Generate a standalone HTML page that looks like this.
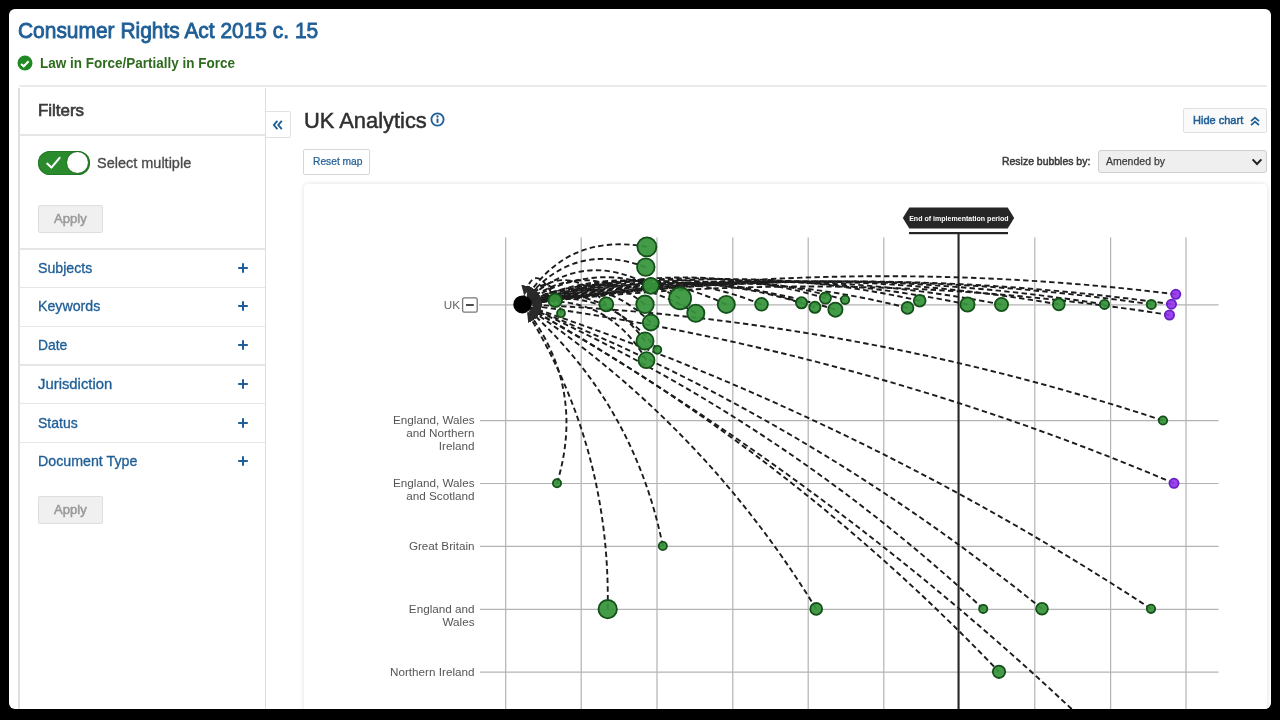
<!DOCTYPE html>
<html lang="en"><head><meta charset="utf-8"><title>UK Analytics</title>
<style>
html,body{margin:0;padding:0;background:#000;}
body{width:1280px;height:720px;overflow:hidden;background:#000;font-family:"Liberation Sans",sans-serif;position:relative;filter:blur(0.45px);}
.page{position:absolute;left:9px;top:9px;width:1262px;height:699.5px;background:#fff;border-radius:6px;overflow:hidden;}
.abs{position:absolute;box-sizing:border-box;}
.t{position:absolute;white-space:nowrap;transform-origin:0 50%;display:inline-block;}
.chart{position:absolute;left:0;top:0;}
.hl{position:absolute;background:#e6e6e6;height:1.6px;}
.btn{position:absolute;box-sizing:border-box;border:1px solid #d9d9d9;border-radius:2px;background:#fff;}
</style></head><body>
<div class="page"><div class="abs" style="left:-9px;top:-9px;width:1280px;height:720px;">
<div class="hl" style="left:19px;top:84.9px;width:1248px;height:2.5px;background:#ebebeb"></div>
<svg class="abs" style="left:17.0px;top:55.2px" width="16" height="16" viewBox="0 0 16 16"><circle cx="8" cy="8" r="7.5" fill="#1f8a24"/><path d="M4.1 8.9 L6.7 11.3 L11.6 6.3" fill="none" stroke="#fff" stroke-width="2" stroke-linejoin="miter"/></svg>
<div class="abs" style="left:18.3px;top:88px;width:1.5px;height:632px;background:#dedede"></div>
<div class="abs" style="left:264.7px;top:88px;width:1.5px;height:632px;background:#dedede"></div>
<div class="hl" style="left:19px;top:134.4px;width:246px;height:1.4px"></div>
<div class="hl" style="left:19px;top:247.9px;width:246px;height:2.4px"></div>
<div class="hl" style="left:19px;top:286.9px;width:246px;height:1.4px"></div>
<div class="hl" style="left:19px;top:325.6px;width:246px;height:1.4px"></div>
<div class="hl" style="left:19px;top:364.4px;width:246px;height:1.4px"></div>
<div class="hl" style="left:19px;top:403.1px;width:246px;height:1.4px"></div>
<div class="hl" style="left:19px;top:441.9px;width:246px;height:1.4px"></div>
<div class="abs" style="left:38.1px;top:150.6px;width:51.6px;height:24px;border-radius:12px;background:#2a8a2c;box-shadow:inset 0 0 0 1px #237a26"></div>
<div class="abs" style="left:66.7px;top:151.8px;width:21.6px;height:21.6px;border-radius:50%;background:#fff;box-shadow:0 0 1.5px rgba(0,0,0,.6)"></div>
<svg class="abs" style="left:44px;top:154px" width="20" height="18" viewBox="0 0 20 18"><path d="M3.2 9.6 L7.4 13.6 L15.6 3.8" fill="none" stroke="#fff" stroke-width="2.1" stroke-linecap="round" stroke-linejoin="round"/></svg>
<div class="btn" style="left:37.9px;top:205.1px;width:64.8px;height:27.8px;background:#f0f0f0;border-color:#dedede"></div>
<div class="btn" style="left:37.9px;top:496.0px;width:64.8px;height:27.8px;background:#f0f0f0;border-color:#dedede"></div>
<svg class="abs" style="left:236.5px;top:261.6px" width="12" height="12" viewBox="0 0 12 12"><path d="M6 1.2V10.8M1.2 6H10.8" stroke="#1f5e96" stroke-width="2" fill="none"/></svg>
<svg class="abs" style="left:236.5px;top:300.2px" width="12" height="12" viewBox="0 0 12 12"><path d="M6 1.2V10.8M1.2 6H10.8" stroke="#1f5e96" stroke-width="2" fill="none"/></svg>
<svg class="abs" style="left:236.5px;top:339.0px" width="12" height="12" viewBox="0 0 12 12"><path d="M6 1.2V10.8M1.2 6H10.8" stroke="#1f5e96" stroke-width="2" fill="none"/></svg>
<svg class="abs" style="left:236.5px;top:377.8px" width="12" height="12" viewBox="0 0 12 12"><path d="M6 1.2V10.8M1.2 6H10.8" stroke="#1f5e96" stroke-width="2" fill="none"/></svg>
<svg class="abs" style="left:236.5px;top:416.5px" width="12" height="12" viewBox="0 0 12 12"><path d="M6 1.2V10.8M1.2 6H10.8" stroke="#1f5e96" stroke-width="2" fill="none"/></svg>
<svg class="abs" style="left:236.5px;top:455.3px" width="12" height="12" viewBox="0 0 12 12"><path d="M6 1.2V10.8M1.2 6H10.8" stroke="#1f5e96" stroke-width="2" fill="none"/></svg>
<div class="btn" style="left:264.8px;top:110.6px;width:25.8px;height:27.2px;border-color:#e2e2e2"></div>
<svg class="abs" style="left:271.5px;top:118.5px" width="12" height="12" viewBox="0 0 12 12"><path d="M5.4 1.9 L1.9 6 L5.4 10.1 M9.8 1.9 L6.3 6 L9.8 10.1" fill="none" stroke="#1f5e96" stroke-width="1.9"/></svg>
<svg class="abs" style="left:430px;top:112px" width="15" height="15" viewBox="0 0 15 15"><circle cx="7.5" cy="7.5" r="6.1" fill="#fff" stroke="#1f5e96" stroke-width="1.8"/><rect x="6.55" y="6.5" width="1.9" height="4.4" fill="#1f5e96"/><circle cx="7.5" cy="4.5" r="1.15" fill="#1f5e96"/></svg>
<div class="btn" style="left:303.4px;top:149.3px;width:67px;height:25.3px;border-color:#d6d6d6"></div>
<div class="btn" style="left:1183.4px;top:107.9px;width:83.2px;height:25.4px;background:#fafafa;border-color:#e0e0e0"></div>
<svg class="abs" style="left:1248.5px;top:115px" width="12" height="12" viewBox="0 0 12 12"><path d="M2 6.2 L6 2.6 L10 6.2 M2 10.2 L6 6.6 L10 10.2" fill="none" stroke="#1f5e96" stroke-width="1.8"/></svg>
<div class="btn" style="left:1097.9px;top:149.6px;width:168.7px;height:23.3px;background:#efefef;border-color:#cfcfcf;border-radius:3px"></div>
<svg class="abs" style="left:1250.5px;top:156.5px" width="12" height="10" viewBox="0 0 12 10"><path d="M1.6 2.4 L6 7 L10.4 2.4" fill="none" stroke="#222" stroke-width="2"/></svg>
<div class="abs" style="left:304.2px;top:183.8px;width:962.4px;height:560px;border-radius:4px;background:#fff;box-shadow:0 0 5px rgba(0,0,0,.13)"></div>
<svg class="chart" width="1280" height="720" viewBox="0 0 1280 720">
<g stroke="#b3b3b3" stroke-width="1.2" fill="none">
<line x1="505.7" y1="237.5" x2="505.7" y2="712"/>
<line x1="581.2" y1="237.5" x2="581.2" y2="712"/>
<line x1="657.0" y1="237.5" x2="657.0" y2="712"/>
<line x1="732.8" y1="237.5" x2="732.8" y2="712"/>
<line x1="808.2" y1="237.5" x2="808.2" y2="712"/>
<line x1="883.8" y1="237.5" x2="883.8" y2="712"/>
<line x1="1034.8" y1="237.5" x2="1034.8" y2="712"/>
<line x1="1110.6" y1="237.5" x2="1110.6" y2="712"/>
<line x1="1186.0" y1="237.5" x2="1186.0" y2="712"/>
<line x1="479" y1="304.8" x2="1218.5" y2="304.8"/>
<line x1="480" y1="420.7" x2="1218.5" y2="420.7"/>
<line x1="480" y1="483.5" x2="1218.5" y2="483.5"/>
<line x1="480" y1="546.4" x2="1218.5" y2="546.4"/>
<line x1="480" y1="609.4" x2="1218.5" y2="609.4"/>
<line x1="480" y1="672.2" x2="1218.5" y2="672.2"/>
</g>
<g fill="#262626" stroke="none">
<rect x="957.5" y="232" width="2.1" height="480"/>
<rect x="909" y="232" width="99" height="2.2"/>
<path d="M902.8 218 L909.3 207.4 H1007.7 L1014.2 218 L1007.7 228.6 H909.3 Z"/>
</g>
<text x="958.9" y="221.2" text-anchor="middle" font-family="Liberation Sans, sans-serif" font-size="6.7" font-weight="700" fill="#ffffff" textLength="99.5" lengthAdjust="spacingAndGlyphs">End of implementation period</text>
<defs><marker id="arr" viewBox="0 0 10 10" refX="19" refY="5" markerWidth="10" markerHeight="10" markerUnits="userSpaceOnUse" orient="auto-start-reverse"><path d="M0 0 L10 5 L0 10 Z" fill="#2a2a2a"/></marker></defs>
<g fill="none" stroke="#1c1c1c" stroke-width="1.9" stroke-dasharray="5.4 3.3">
<path d="M555.2 300.4 Q532.9 253.9 522.3 304.4" marker-end="url(#arr)"/>
<path d="M561.0 313.2 Q552.5 261.2 522.3 304.4" marker-end="url(#arr)"/>
<path d="M606.3 304.3 Q564.2 255.8 522.3 304.4" marker-end="url(#arr)"/>
<path d="M646.9 246.9 Q564.4 231.8 522.3 304.4" marker-end="url(#arr)"/>
<path d="M645.8 267.1 Q570.1 239.5 522.3 304.4" marker-end="url(#arr)"/>
<path d="M650.8 285.8 Q579.6 247.2 522.3 304.4" marker-end="url(#arr)"/>
<path d="M645.0 304.3 Q583.6 256.0 522.3 304.4" marker-end="url(#arr)"/>
<path d="M650.8 322.5 Q593.3 265.6 522.3 304.4" marker-end="url(#arr)"/>
<path d="M645.0 341.0 Q597.5 276.4 522.3 304.4" marker-end="url(#arr)"/>
<path d="M657.3 349.8 Q605.2 281.3 522.3 304.4" marker-end="url(#arr)"/>
<path d="M646.5 360.2 Q604.2 288.2 522.3 304.4" marker-end="url(#arr)"/>
<path d="M680.1 298.4 Q599.4 253.2 522.3 304.4" marker-end="url(#arr)"/>
<path d="M695.8 313.3 Q611.5 260.8 522.3 304.4" marker-end="url(#arr)"/>
<path d="M726.3 304.4 Q624.3 256.4 522.3 304.4" marker-end="url(#arr)"/>
<path d="M761.5 304.3 Q641.9 256.5 522.3 304.4" marker-end="url(#arr)"/>
<path d="M801.5 302.8 Q661.6 256.0 522.3 304.4" marker-end="url(#arr)"/>
<path d="M814.9 307.3 Q669.1 258.3 522.3 304.4" marker-end="url(#arr)"/>
<path d="M825.4 298.1 Q672.9 253.8 522.3 304.4" marker-end="url(#arr)"/>
<path d="M835.4 309.7 Q679.7 259.6 522.3 304.4" marker-end="url(#arr)"/>
<path d="M845.1 299.8 Q683.0 254.7 522.3 304.4" marker-end="url(#arr)"/>
<path d="M907.5 307.9 Q715.3 259.1 522.3 304.4" marker-end="url(#arr)"/>
<path d="M919.7 300.8 Q720.6 255.6 522.3 304.4" marker-end="url(#arr)"/>
<path d="M967.5 304.5 Q744.9 257.7 522.3 304.4" marker-end="url(#arr)"/>
<path d="M1001.5 304.5 Q761.9 257.8 522.3 304.4" marker-end="url(#arr)"/>
<path d="M1058.8 304.4 Q790.5 258.1 522.3 304.4" marker-end="url(#arr)"/>
<path d="M1104.5 304.4 Q813.4 258.3 522.3 304.4" marker-end="url(#arr)"/>
<path d="M1151.3 304.4 Q836.8 258.5 522.3 304.4" marker-end="url(#arr)"/>
<path d="M1175.8 294.3 Q848.3 253.6 522.3 304.4" marker-end="url(#arr)"/>
<path d="M1171.5 304.2 Q846.9 258.5 522.3 304.4" marker-end="url(#arr)"/>
<path d="M1169.5 315.0 Q846.6 263.9 522.3 304.4" marker-end="url(#arr)"/>
<path d="M1163.0 420.5 Q850.8 317.4 522.3 304.4" marker-end="url(#arr)"/>
<path d="M1174.0 483.3 Q860.2 349.9 522.3 304.4" marker-end="url(#arr)"/>
<path d="M557.0 483.3 Q586.9 384.7 522.3 304.4" marker-end="url(#arr)"/>
<path d="M662.8 546.0 Q633.7 401.3 522.3 304.4" marker-end="url(#arr)"/>
<path d="M607.7 609.2 Q610.7 444.0 522.3 304.4" marker-end="url(#arr)"/>
<path d="M816.2 608.9 Q703.0 424.1 522.3 304.4" marker-end="url(#arr)"/>
<path d="M983.2 608.9 Q778.2 418.1 522.3 304.4" marker-end="url(#arr)"/>
<path d="M1042.0 608.8 Q805.4 416.9 522.3 304.4" marker-end="url(#arr)"/>
<path d="M1151.0 608.8 Q856.5 415.6 522.3 304.4" marker-end="url(#arr)"/>
<path d="M522.3 304.4 Q788.7 451.7 999.0 671.8" marker-start="url(#arr)"/>
<path d="M522.3 304.4 Q837.8 483.3 1099.0 735.0" marker-start="url(#arr)"/>
</g>
<circle cx="555.2" cy="300.4" r="6.80" fill="#36953a" fill-opacity="0.93" stroke="#145019" stroke-width="1.8"/>
<circle cx="561.0" cy="313.2" r="4.00" fill="#36953a" fill-opacity="0.93" stroke="#145019" stroke-width="1.8"/>
<circle cx="606.3" cy="304.3" r="7.00" fill="#36953a" fill-opacity="0.93" stroke="#145019" stroke-width="1.8"/>
<circle cx="646.9" cy="246.9" r="9.50" fill="#36953a" fill-opacity="0.93" stroke="#145019" stroke-width="1.8"/>
<circle cx="645.8" cy="267.1" r="8.80" fill="#36953a" fill-opacity="0.93" stroke="#145019" stroke-width="1.8"/>
<circle cx="650.8" cy="285.8" r="8.00" fill="#36953a" fill-opacity="0.93" stroke="#145019" stroke-width="1.8"/>
<circle cx="645.0" cy="304.3" r="8.80" fill="#36953a" fill-opacity="0.93" stroke="#145019" stroke-width="1.8"/>
<circle cx="650.8" cy="322.5" r="8.00" fill="#36953a" fill-opacity="0.93" stroke="#145019" stroke-width="1.8"/>
<circle cx="645.0" cy="341.0" r="8.60" fill="#36953a" fill-opacity="0.93" stroke="#145019" stroke-width="1.8"/>
<circle cx="657.3" cy="349.8" r="4.00" fill="#36953a" fill-opacity="0.93" stroke="#145019" stroke-width="1.8"/>
<circle cx="646.5" cy="360.2" r="8.00" fill="#36953a" fill-opacity="0.93" stroke="#145019" stroke-width="1.8"/>
<circle cx="680.1" cy="298.4" r="11.00" fill="#36953a" fill-opacity="0.93" stroke="#145019" stroke-width="1.8"/>
<circle cx="695.8" cy="313.3" r="8.60" fill="#36953a" fill-opacity="0.93" stroke="#145019" stroke-width="1.8"/>
<circle cx="726.3" cy="304.4" r="8.60" fill="#36953a" fill-opacity="0.93" stroke="#145019" stroke-width="1.8"/>
<circle cx="761.5" cy="304.3" r="6.40" fill="#36953a" fill-opacity="0.93" stroke="#145019" stroke-width="1.8"/>
<circle cx="801.5" cy="302.8" r="5.60" fill="#36953a" fill-opacity="0.93" stroke="#145019" stroke-width="1.8"/>
<circle cx="814.9" cy="307.3" r="5.60" fill="#36953a" fill-opacity="0.93" stroke="#145019" stroke-width="1.8"/>
<circle cx="825.4" cy="298.1" r="5.60" fill="#36953a" fill-opacity="0.93" stroke="#145019" stroke-width="1.8"/>
<circle cx="835.4" cy="309.7" r="7.10" fill="#36953a" fill-opacity="0.93" stroke="#145019" stroke-width="1.8"/>
<circle cx="845.1" cy="299.8" r="4.20" fill="#36953a" fill-opacity="0.93" stroke="#145019" stroke-width="1.8"/>
<circle cx="907.5" cy="307.9" r="5.90" fill="#36953a" fill-opacity="0.93" stroke="#145019" stroke-width="1.8"/>
<circle cx="919.7" cy="300.8" r="5.90" fill="#36953a" fill-opacity="0.93" stroke="#145019" stroke-width="1.8"/>
<circle cx="967.5" cy="304.5" r="7.10" fill="#36953a" fill-opacity="0.93" stroke="#145019" stroke-width="1.8"/>
<circle cx="1001.5" cy="304.5" r="6.60" fill="#36953a" fill-opacity="0.93" stroke="#145019" stroke-width="1.8"/>
<circle cx="1058.8" cy="304.4" r="5.90" fill="#36953a" fill-opacity="0.93" stroke="#145019" stroke-width="1.8"/>
<circle cx="1104.5" cy="304.4" r="4.60" fill="#36953a" fill-opacity="0.93" stroke="#145019" stroke-width="1.8"/>
<circle cx="1151.3" cy="304.4" r="4.60" fill="#36953a" fill-opacity="0.93" stroke="#145019" stroke-width="1.8"/>
<circle cx="1175.8" cy="294.3" r="4.60" fill="#9335ec" fill-opacity="0.93" stroke="#6a20c4" stroke-width="1.8"/>
<circle cx="1171.5" cy="304.2" r="4.60" fill="#9335ec" fill-opacity="0.93" stroke="#6a20c4" stroke-width="1.8"/>
<circle cx="1169.5" cy="315.0" r="4.60" fill="#9335ec" fill-opacity="0.93" stroke="#6a20c4" stroke-width="1.8"/>
<circle cx="1163.0" cy="420.5" r="4.20" fill="#36953a" fill-opacity="0.93" stroke="#145019" stroke-width="1.8"/>
<circle cx="1174.0" cy="483.3" r="4.60" fill="#9335ec" fill-opacity="0.93" stroke="#6a20c4" stroke-width="1.8"/>
<circle cx="557.0" cy="483.3" r="4.10" fill="#36953a" fill-opacity="0.93" stroke="#145019" stroke-width="1.8"/>
<circle cx="662.8" cy="546.0" r="4.10" fill="#36953a" fill-opacity="0.93" stroke="#145019" stroke-width="1.8"/>
<circle cx="607.7" cy="609.2" r="9.20" fill="#36953a" fill-opacity="0.93" stroke="#145019" stroke-width="1.8"/>
<circle cx="816.2" cy="608.9" r="5.90" fill="#36953a" fill-opacity="0.93" stroke="#145019" stroke-width="1.8"/>
<circle cx="983.2" cy="608.9" r="4.10" fill="#36953a" fill-opacity="0.93" stroke="#145019" stroke-width="1.8"/>
<circle cx="1042.0" cy="608.8" r="5.90" fill="#36953a" fill-opacity="0.93" stroke="#145019" stroke-width="1.8"/>
<circle cx="1151.0" cy="608.8" r="4.20" fill="#36953a" fill-opacity="0.93" stroke="#145019" stroke-width="1.8"/>
<circle cx="999.0" cy="671.8" r="6.20" fill="#36953a" fill-opacity="0.93" stroke="#145019" stroke-width="1.8"/>
<circle cx="522.3" cy="304.4" r="9" fill="#000"/>
<g font-family="Liberation Sans, sans-serif" font-size="11.7" fill="#555555" text-anchor="end">
<text x="474.5" y="424.4">England, Wales</text>
<text x="474.5" y="437.4">and Northern</text>
<text x="474.5" y="450.4">Ireland</text>
<text x="474.5" y="487.2">England, Wales</text>
<text x="474.5" y="500.2">and Scotland</text>
<text x="474.5" y="550.1">Great Britain</text>
<text x="474.5" y="613.0">England and</text>
<text x="474.5" y="626.0">Wales</text>
<text x="474.5" y="675.9">Northern Ireland</text>
<text x="460" y="309.1" font-size="11.7" fill="#666">UK</text>
</g>
<rect x="462.6" y="297.9" width="14.6" height="14.2" rx="1.6" fill="#fff" stroke="#777" stroke-width="1.3"/>
<rect x="466" y="304.1" width="7.8" height="1.8" fill="#3a3a3a"/>
</svg>
<span class="t" id="t-title" style="left:18.0px;top:18.22px;font-size:21.8px;line-height:26.16px;font-weight:400;color:#1f5e96;-webkit-text-stroke:0.87px #1f5e96;transform:scaleX(0.9604)">Consumer Rights Act 2015 c. 15</span>
<span class="t" id="t-status" style="left:40.2px;top:53.82px;font-size:15.3px;line-height:18.36px;font-weight:700;color:#2f6b1e;transform:scaleX(0.8822)">Law in Force/Partially in Force</span>
<span class="t" id="t-filters" style="left:37.8px;top:101.00px;font-size:16.0px;line-height:19.2px;font-weight:400;color:#3a3a3a;-webkit-text-stroke:0.64px #3a3a3a;transform:scaleX(1.0560)">Filters</span>
<span class="t" id="t-selmul" style="left:96.8px;top:153.80px;font-size:15.0px;line-height:18.0px;font-weight:400;color:#4a4a4a;-webkit-text-stroke:0.33px #4a4a4a;transform:scaleX(0.9657)">Select multiple</span>
<span class="t" id="t-apply1" style="left:53.9px;top:210.50px;font-size:13.5px;line-height:16.2px;font-weight:400;color:#9a9a9a;-webkit-text-stroke:0.54px #9a9a9a;transform:scaleX(0.9680)">Apply</span>
<span class="t" id="t-subjects" style="left:37.7px;top:258.60px;font-size:15.0px;line-height:18.0px;font-weight:400;color:#1f5e96;-webkit-text-stroke:0.33px #1f5e96;transform:scaleX(0.9436)">Subjects</span>
<span class="t" id="t-keywords" style="left:37.7px;top:297.20px;font-size:15.0px;line-height:18.0px;font-weight:400;color:#1f5e96;-webkit-text-stroke:0.33px #1f5e96;transform:scaleX(0.9460)">Keywords</span>
<span class="t" id="t-date" style="left:37.7px;top:336.00px;font-size:15.0px;line-height:18.0px;font-weight:400;color:#1f5e96;-webkit-text-stroke:0.33px #1f5e96;transform:scaleX(0.9247)">Date</span>
<span class="t" id="t-juris" style="left:37.7px;top:374.80px;font-size:15.0px;line-height:18.0px;font-weight:400;color:#1f5e96;-webkit-text-stroke:0.33px #1f5e96;transform:scaleX(0.9903)">Jurisdiction</span>
<span class="t" id="t-stat" style="left:37.7px;top:413.50px;font-size:15.0px;line-height:18.0px;font-weight:400;color:#1f5e96;-webkit-text-stroke:0.33px #1f5e96;transform:scaleX(0.9358)">Status</span>
<span class="t" id="t-doctype" style="left:37.7px;top:452.30px;font-size:15.0px;line-height:18.0px;font-weight:400;color:#1f5e96;-webkit-text-stroke:0.33px #1f5e96;transform:scaleX(0.9477)">Document Type</span>
<span class="t" id="t-apply2" style="left:53.9px;top:501.80px;font-size:13.5px;line-height:16.2px;font-weight:400;color:#9a9a9a;-webkit-text-stroke:0.54px #9a9a9a;transform:scaleX(0.9680)">Apply</span>
<span class="t" id="t-ukan" style="left:304.0px;top:107.68px;font-size:22.2px;line-height:26.64px;font-weight:400;color:#2f2f2f;-webkit-text-stroke:0.49px #2f2f2f;transform:scaleX(0.9860)">UK Analytics</span>
<span class="t" id="t-reset" style="left:313.0px;top:155.40px;font-size:11.0px;line-height:13.2px;font-weight:400;color:#1f5e96;-webkit-text-stroke:0.24px #1f5e96;transform:scaleX(0.9304)">Reset map</span>
<span class="t" id="t-hide" style="left:1192.8px;top:114.00px;font-size:11.0px;line-height:13.2px;font-weight:400;color:#1f5e96;-webkit-text-stroke:0.5px #1f5e96;transform:scaleX(1.0012)">Hide chart</span>
<span class="t" id="t-resize" style="left:1001.8px;top:155.00px;font-size:11.0px;line-height:13.2px;font-weight:400;color:#3a3a3a;-webkit-text-stroke:0.5px #3a3a3a;transform:scaleX(0.9499)">Resize bubbles by:</span>
<span class="t" id="t-amended" style="left:1106.0px;top:154.90px;font-size:11.5px;line-height:13.8px;font-weight:400;color:#3a3a3a;-webkit-text-stroke:0.25px #3a3a3a;transform:scaleX(0.9136)">Amended by</span>
</div></div>
</body></html>
